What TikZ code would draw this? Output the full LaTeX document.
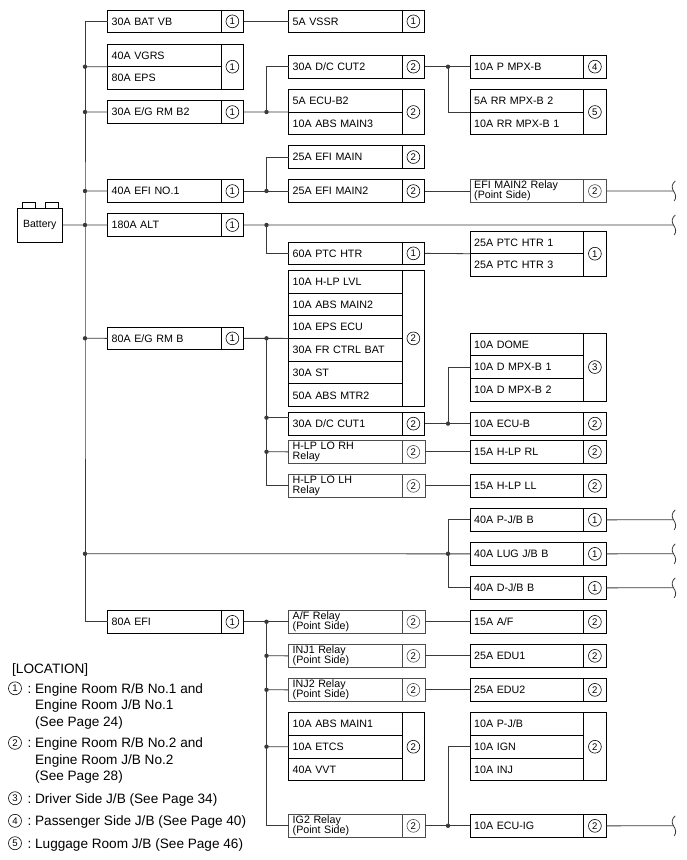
\documentclass[tikz,border=0pt]{standalone}
\usepackage{fontspec}
\setmainfont{Liberation Sans}
\definecolor{wirec}{HTML}{3A3A3A}
\tikzset{
  fuse/.style={draw=black,line width=0.9pt,anchor=north west,outer sep=0pt,inner xsep=4.2pt,inner ysep=0pt,
    minimum height=22.7pt,text width=105.1pt,text height=7.7pt,text depth=0pt,align=left,
    font=\fontsize{10.7}{12}\selectfont},
  relay/.style={draw=black!70,line width=0.5pt,anchor=north west,outer sep=0pt,inner xsep=4.2pt,inner ysep=0pt,
    minimum height=22.7pt,text width=105.1pt,align=left,
    font=\fontsize{10.7}{10}\selectfont},
  cell/.style={draw=black,line width=0.9pt,anchor=north west,outer sep=0pt,inner sep=0pt,
    minimum width=22.8pt,minimum height=22.7pt,text height=6.9pt,text depth=0pt,
    font=\fontsize{9.6}{11}\selectfont,
    path picture={\draw[line width=0.6pt] (path picture bounding box.center) circle (6.4pt);}},
  relaycell/.style={cell,draw=black!70,line width=0.5pt},
  span/.style={minimum height=#1*22.7pt},
  wire/.style={draw=wirec,line width=0.8pt},
  dot/.style={circle,fill=wirec,inner sep=0pt,minimum size=4.4pt},
  terminal/.style={draw=black,line width=0.8pt,anchor=north west,inner sep=0pt,minimum width=12.5pt,minimum height=6pt},
  legnum/.style={circle,draw=black,line width=0.6pt,inner sep=0pt,minimum size=13pt,font=\fontsize{9.6}{11}\selectfont},
  legtext/.style={anchor=north west,inner sep=0pt,align=left,font=\fontsize{13.6}{16.4}\selectfont},
  pics/cutmark/.style={code={
    \draw[wire] (1.8,-10) .. controls (-2,-7) and (-2,-3) .. (0,0) .. controls (2,3) and (3.5,7) .. (0.6,10);}}
}
\begin{document}
\begin{tikzpicture}[x=1pt,y=-1pt]
  \useasboundingbox (0,0) rectangle (686,860);
  % battery
  \node[draw=black,line width=0.9pt,anchor=north west,inner sep=0pt,outer sep=0pt,minimum width=45.5pt,minimum height=34pt,font=\fontsize{10.5}{12}\selectfont] (battery) at (17,208) {Battery};
  \node[terminal] (termA) at (22.3,202) {};
  \node[terminal] (termB) at (45,202) {};
  % first column
  \node[fuse] (batvb) at (107.5,10) {30A BAT VB};
  \node[cell] (batvbn) at (batvb.north east) {1};
  \node[fuse] (vgrs) at (107.5,44) {40A VGRS};
  \node[fuse] (eps) at (vgrs.south west) {80A EPS};
  \node[cell,span=2] (vgrsn) at (vgrs.north east) {1};
  \node[fuse] (egrmbtwo) at (107.5,100.7) {30A E/G RM B2};
  \node[cell] (egrmbtwon) at (egrmbtwo.north east) {1};
  \node[fuse] (efinoone) at (107.5,179.7) {40A EFI NO.1};
  \node[cell] (efinoonen) at (efinoone.north east) {1};
  \node[fuse] (alt) at (107.5,213.7) {180A ALT};
  \node[cell] (altn) at (alt.north east) {1};
  \node[fuse] (egrmb) at (107.5,327) {80A E/G RM B};
  \node[cell] (egrmbn) at (egrmb.north east) {1};
  \node[fuse] (efi) at (107.5,610.5) {80A EFI};
  \node[cell] (efin) at (efi.north east) {1};
  % second column
  \node[fuse] (vssr) at (288.5,10) {5A VSSR};
  \node[cell] (vssrn) at (vssr.north east) {1};
  \node[fuse] (dccuttwo) at (288.5,55.3) {30A D/C CUT2};
  \node[cell] (dccuttwon) at (dccuttwo.north east) {2};
  \node[fuse] (ecubtwo) at (288.5,89.3) {5A ECU-B2};
  \node[fuse] (absmainthree) at (ecubtwo.south west) {10A ABS MAIN3};
  \node[cell,span=2] (ecubtwon) at (ecubtwo.north east) {2};
  \node[fuse] (efimain) at (288.5,145.7) {25A EFI MAIN};
  \node[cell] (efimainn) at (efimain.north east) {2};
  \node[fuse] (efimaintwo) at (288.5,179.7) {25A EFI MAIN2};
  \node[cell] (efimaintwon) at (efimaintwo.north east) {2};
  \node[fuse] (ptchtr) at (288.5,242) {60A PTC HTR};
  \node[cell] (ptchtrn) at (ptchtr.north east) {1};
  \node[fuse] (hlplvl) at (288.5,270.3) {10A H-LP LVL};
  \node[fuse] (absmaintwo) at (hlplvl.south west) {10A ABS MAIN2};
  \node[fuse] (epsecu) at (absmaintwo.south west) {10A EPS ECU};
  \node[fuse] (frctrl) at (epsecu.south west) {30A FR CTRL BAT};
  \node[fuse] (st) at (frctrl.south west) {30A ST};
  \node[fuse] (absmtr) at (st.south west) {50A ABS MTR2};
  \node[cell,span=6] (hlplvln) at (hlplvl.north east) {2};
  \node[fuse] (dccutone) at (288.5,412.3) {30A D/C CUT1};
  \node[cell] (dccutonen) at (dccutone.north east) {2};
  \node[relay] (hlprh) at (288.5,440.5) {H-LP LO RH\\Relay};
  \node[relaycell] (hlprhn) at (hlprh.north east) {2};
  \node[relay] (hlplh) at (288.5,474.5) {H-LP LO LH\\Relay};
  \node[relaycell] (hlplhn) at (hlplh.north east) {2};
  \node[relay] (afrelay) at (288.5,610.5) {A/F Relay\\(Point Side)};
  \node[relaycell] (afrelayn) at (afrelay.north east) {2};
  \node[relay] (injone) at (288.5,644.5) {INJ1 Relay\\(Point Side)};
  \node[relaycell] (injonen) at (injone.north east) {2};
  \node[relay] (injtwo) at (288.5,678.5) {INJ2 Relay\\(Point Side)};
  \node[relaycell] (injtwon) at (injtwo.north east) {2};
  \node[fuse] (absmainone) at (288.5,712.7) {10A ABS MAIN1};
  \node[fuse] (etcs) at (absmainone.south west) {10A ETCS};
  \node[fuse] (vvt) at (etcs.south west) {40A VVT};
  \node[cell,span=3] (absmainonen) at (absmainone.north east) {2};
  \node[relay] (igtwo) at (288.5,814.5) {IG2 Relay\\(Point Side)};
  \node[relaycell] (igtwon) at (igtwo.north east) {2};
  % third column
  \node[fuse] (pmpxb) at (470,55.3) {10A P MPX-B};
  \node[cell] (pmpxbn) at (pmpxb.north east) {4};
  \node[fuse] (rrmpxtwo) at (470,89.3) {5A RR MPX-B 2};
  \node[fuse] (rrmpxone) at (rrmpxtwo.south west) {10A RR MPX-B 1};
  \node[cell,span=2] (rrmpxtwon) at (rrmpxtwo.north east) {5};
  \node[relay] (efirelay) at (470,179.7) {EFI MAIN2 Relay\\(Point Side)};
  \node[relaycell] (efirelayn) at (efirelay.north east) {2};
  \node[fuse] (ptcone) at (470,231) {25A PTC HTR 1};
  \node[fuse] (ptcthree) at (ptcone.south west) {25A PTC HTR 3};
  \node[cell,span=2] (ptconen) at (ptcone.north east) {1};
  \node[fuse] (dome) at (470,333) {10A DOME};
  \node[fuse] (dmpxone) at (dome.south west) {10A D MPX-B 1};
  \node[fuse] (dmpxtwo) at (dmpxone.south west) {10A D MPX-B 2};
  \node[cell,span=3] (domen) at (dome.north east) {3};
  \node[fuse] (ecub) at (470,412.3) {10A ECU-B};
  \node[cell] (ecubn) at (ecub.north east) {2};
  \node[fuse] (hlprl) at (470,440.5) {15A H-LP RL};
  \node[cell] (hlprln) at (hlprl.north east) {2};
  \node[fuse] (hlpll) at (470,474.5) {15A H-LP LL};
  \node[cell] (hlplln) at (hlpll.north east) {2};
  \node[fuse] (pjb) at (470,508.5) {40A P-J/B B};
  \node[cell] (pjbn) at (pjb.north east) {1};
  \node[fuse] (lugjb) at (470,542.5) {40A LUG J/B B};
  \node[cell] (lugjbn) at (lugjb.north east) {1};
  \node[fuse] (djb) at (470,576.5) {40A D-J/B B};
  \node[cell] (djbn) at (djb.north east) {1};
  \node[fuse] (fifteenaf) at (470,610.5) {15A A/F};
  \node[cell] (fifteenafn) at (fifteenaf.north east) {2};
  \node[fuse] (eduone) at (470,644.5) {25A EDU1};
  \node[cell] (eduonen) at (eduone.north east) {2};
  \node[fuse] (edutwo) at (470,678.5) {25A EDU2};
  \node[cell] (edutwon) at (edutwo.north east) {2};
  \node[fuse] (tenpjb) at (470,712.7) {10A P-J/B};
  \node[fuse] (ign) at (tenpjb.south west) {10A IGN};
  \node[fuse] (inj) at (ign.south west) {10A INJ};
  \node[cell,span=3] (tenpjbn) at (tenpjb.north east) {2};
  \node[fuse] (ecuig) at (470,814.5) {10A ECU-IG};
  \node[cell] (ecuign) at (ecuig.north east) {2};
  % junctions on the main bus
  \node[dot] (busvgrs) at (85,66.7) {};
  \node[dot] (busegb) at (85,112) {};
  \node[dot] (busefi) at (85,191) {};
  \node[dot] (busalt) at (85,225) {};
  \node[dot] (busegrm) at (85,338.3) {};
  \node[dot] (busjb) at (85,553.8) {};
  \coordinate (busmid) at (85,300);
  % other junctions
  \node[dot] (jegb) at (266.5,112) {};
  \node[dot] (jefi) at (266.5,191) {};
  \node[dot] (jalt) at (266.5,225) {};
  \node[dot] (jegrm) at (266.5,338.3) {};
  \node[dot] (jcutone) at (266.5,417.7) {};
  \node[dot] (jhlp) at (266.5,451.8) {};
  \node[dot] (jaf) at (266.5,621.8) {};
  \node[dot] (jinjone) at (266.5,655.8) {};
  \node[dot] (jinjtwo) at (266.5,689.8) {};
  \node[dot] (jetcs) at (266.5,746.7) {};
  \node[dot] (jmpx) at (448,66.7) {};
  \node[dot] (jecub) at (448,423.6) {};
  \node[dot] (jjb) at (448,553.8) {};
  \node[dot] (jig) at (448,825.8) {};
  % free ends
  \coordinate (cutA) at (673.5,191);
  \coordinate (cutB) at (673.5,225);
  \coordinate (cutC) at (673.5,519.8);
  \coordinate (cutD) at (673.5,553.8);
  \coordinate (cutE) at (673.5,587.8);
  \coordinate (cutF) at (673.5,825.8);
  % connectors
  \draw[wire] (batvb.west) -| (busmid) |- (efi.west);
  \draw[wire] (battery.east) -- (alt.west);
  \draw[wire] (busvgrs.center) -- (vgrs.south west);
  \draw[wire] (busegb.center) -- (egrmbtwo.west);
  \draw[wire] (busefi.center) -- (efinoone.west);
  \draw[wire] (busegrm.center) -- (egrmb.west);
  \draw[wire] (busjb.center) -- (lugjb.west);
  \draw[wire] (batvbn.east) -- (vssr.west);
  \draw[wire] (egrmbtwon.east) -- (ecubtwo.south west);
  \draw[wire] (jegb.center) |- (dccuttwo.west);
  \draw[wire] (dccuttwon.east) -- (pmpxb.west);
  \draw[wire] (jmpx.center) |- (rrmpxtwo.south west);
  \draw[wire] (efinoonen.east) -- (efimaintwo.west);
  \draw[wire] (jefi.center) |- (efimain.west);
  \draw[wire] (efimaintwon.east) -- (efirelay.west);
  \draw[wire] (efirelayn.east) -- (cutA);
  \draw[wire] (altn.east) -- (cutB);
  \draw[wire] (jalt.center) |- (ptchtr.west);
  \draw[wire] (ptchtrn.east) -- (ptcone.south west);
  \draw[wire] (egrmbn.east) -- (epsecu.south west);
  \draw[wire] (jegrm.center) |- (hlplh.west);
  \draw[wire] (jcutone.center) -- (dccutone.west |- jcutone);
  \draw[wire] (jhlp.center) -- (hlprh.west);
  \draw[wire] (dccutonen.east) -- (ecub.west);
  \draw[wire] (jecub.center) |- (dmpxone.west);
  \draw[wire] (hlprhn.east) -- (hlprl.west);
  \draw[wire] (hlplhn.east) -- (hlpll.west);
  \draw[wire] (jjb.center) |- (pjb.west);
  \draw[wire] (jjb.center) |- (djb.west);
  \draw[wire] (pjbn.east) -- (cutC);
  \draw[wire] (lugjbn.east) -- (cutD);
  \draw[wire] (djbn.east) -- (cutE);
  \draw[wire] (efin.east) -- (afrelay.west);
  \draw[wire] (jaf.center) |- (igtwo.west);
  \draw[wire] (jinjone.center) -- (injone.west);
  \draw[wire] (jinjtwo.center) -- (injtwo.west);
  \draw[wire] (jetcs.center) -- (etcs.west);
  \draw[wire] (afrelayn.east) -- (fifteenaf.west);
  \draw[wire] (injonen.east) -- (eduone.west);
  \draw[wire] (injtwon.east) -- (edutwo.west);
  \draw[wire] (igtwon.east) -- (ecuig.west);
  \draw[wire] (jig.center) |- (ign.west);
  \draw[wire] (ecuign.east) -- (cutF);
  % breaks at the right edge
  \pic at (cutA) {cutmark};
  \pic at (cutB) {cutmark};
  \pic at (cutC) {cutmark};
  \pic at (cutD) {cutmark};
  \pic at (cutE) {cutmark};
  \pic at (cutF) {cutmark};
  % location list
  \node[legtext] (lochead) at (12,663.5) {[LOCATION]};
  \node[legnum] (locA) at (15,688.3) {1};
  \node[legtext] (loctextA) at (27.4,683.3) {:\ Engine Room R/B No.1 and\\\hphantom{:\ }Engine Room J/B No.1\\\hphantom{:\ }(See Page 24)};
  \node[legnum] (locB) at (15,742.8) {2};
  \node[legtext] (loctextB) at (27.4,737.8) {:\ Engine Room R/B No.2 and\\\hphantom{:\ }Engine Room J/B No.2\\\hphantom{:\ }(See Page 28)};
  \node[legnum] (locC) at (15,798.2) {3};
  \node[legtext] (loctextC) at (27.4,793.3) {:\ Driver Side J/B (See Page 34)};
  \node[legnum] (locD) at (15,820.8) {4};
  \node[legtext] (loctextD) at (27.4,815.8) {:\ Passenger Side J/B (See Page 40)};
  \node[legnum] (locE) at (15,843.2) {5};
  \node[legtext] (loctextE) at (27.4,838.3) {:\ Luggage Room J/B (See Page 46)};
\end{tikzpicture}
\end{document}
